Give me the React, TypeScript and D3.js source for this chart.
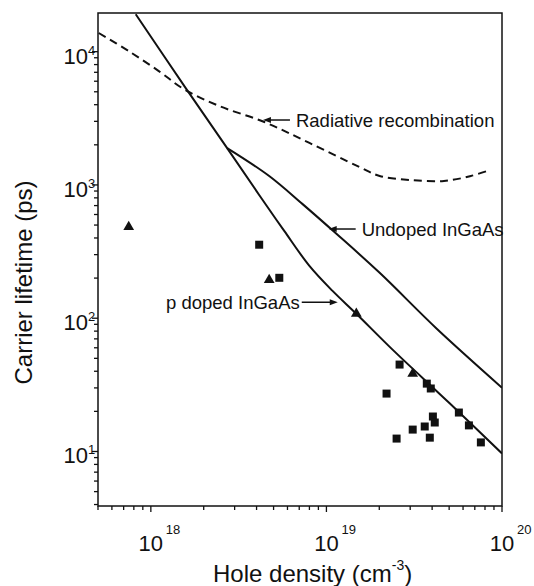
import React from 'react';
import * as d3 from 'd3';

const W = 534;
const H = 586;
const margin = { top: 13, right: 32, bottom: 80, left: 98 };
const FONT = '"Liberation Sans", Arial, Helvetica, sans-serif';

// radiative recombination (dashed)
const radX = [5.05e17, 7.48e17, 1.11e18, 1.54e18, 2.45e18, 4.43e18, 8.0e18, 1.54e19, 2.01e19, 2.98e19, 4.67e19, 6.65e19, 8.53e19];
const radY = [1.38e4, 1.01e4, 7150, 5240, 3910, 2966, 2065, 1365, 1167, 1089, 1072, 1167, 1294];

// p doped InGaAs (solid, steep branch incl. the common upper part)
const pX = [8.2e17, 1.58e18, 2.72e18, 4.14e18, 5.75e18, 8.0e18, 1.08e19, 1.48e19, 2.38e19, 5.05e19, 1e20];
const pY = [1.91e4, 5330, 1890, 841, 452, 247, 161, 108, 58.1, 22.9, 9.66];

// undoped InGaAs (solid, branches off at the kink)
const uX = [2.72e18, 4.72e18, 7.29e18, 1.14e19, 2.01e19, 4.25e19, 1e20];
const uY = [1890, 1167, 721, 430, 219, 83.4, 30.1];

// measured points
const triX = [7.48e17, 4.72e18, 1.48e19, 3.1e19];
const triY = [484, 194, 108, 38.4];
const sqX = [4.14e18, 5.39e18, 2.61e19, 3.73e19, 3.93e19, 2.2e19, 4.04e19, 4.14e19, 3.63e19, 3.1e19, 2.51e19, 3.88e19, 5.68e19, 6.48e19, 7.58e19];
const sqY = [356, 201, 44.9, 32.3, 29.7, 27.2, 18.3, 16.5, 15.4, 14.6, 12.5, 12.7, 19.6, 15.7, 11.7];

const xDecades = [18, 19, 20];
const yDecades = [1, 2, 3, 4];

const zip = (xs: number[], ys: number[]) => xs.map((x, i) => [x, ys[i]] as [number, number]);

export default function App() {
  const x = d3.scaleLog().domain([5e17, 1e20]).range([margin.left, W - margin.right]);
  const y = d3.scaleLog().domain([3.9, 1.95e4]).range([H - margin.bottom, margin.top]);
  const x0 = margin.left, x1 = W - margin.right, y0 = H - margin.bottom, y1 = margin.top;

  const line = d3.line<[number, number]>()
    .x(d => x(d[0]))
    .y(d => y(d[1]))
    .curve(d3.curveCatmullRom.alpha(0.5));

  // minor / major ticks
  const xTicks: { v: number; major: boolean }[] = [];
  for (let e = 17; e <= 20; e++) {
    for (let m = 1; m <= 9; m++) {
      const v = m * Math.pow(10, e);
      if (v >= 5e17 && v <= 1e20) xTicks.push({ v, major: m === 1 });
    }
  }
  const yTicks: { v: number; major: boolean }[] = [];
  for (let e = 0; e <= 4; e++) {
    for (let m = 1; m <= 9; m++) {
      const v = m * Math.pow(10, e);
      if (v >= 3.9 && v <= 1.95e4) yTicks.push({ v, major: m === 1 });
    }
  }

  const sq = d3.symbol().type(d3.symbolSquare).size(64)();
  const tri = d3.symbol().type(d3.symbolTriangle).size(50)();

  const annotations = [
    { text: 'Radiative recombination', tx: 4.35e18, ty: 3070, dir: -1 },
    { text: 'Undoped InGaAs', tx: 1.03e19, ty: 467, dir: -1 },
    { text: 'p doped InGaAs', tx: 1.16e19, ty: 132, dir: 1 },
  ];

  return (
    <svg width={W} height={H} style={{ position: 'absolute', left: 0, top: 0, background: '#fff' }}
      fontFamily={FONT}>
      <defs>
        <clipPath id="plot">
          <rect x={x0} y={y1} width={x1 - x0} height={y0 - y1} />
        </clipPath>
      </defs>
      <rect x={0} y={0} width={W} height={H} fill="#fff" />

      <g clipPath="url(#plot)" fill="none" stroke="#111" strokeWidth={2}>
        <path d={line(zip(radX, radY)) || ''} strokeDasharray="8,5" />
        <path d={line(zip(pX, pY)) || ''} />
        <path d={line(zip(uX, uY)) || ''} />
      </g>

      {zip(sqX, sqY).map((d, i) => (
        <path key={'s' + i} d={sq || ''} transform={`translate(${x(d[0])},${y(d[1])})`} fill="#111" />
      ))}
      {zip(triX, triY).map((d, i) => (
        <path key={'t' + i} d={tri || ''} transform={`translate(${x(d[0])},${y(d[1])})`} fill="#111" />
      ))}

      {annotations.map((a, i) => {
        const px = x(a.tx), py = y(a.ty);
        if (a.dir < 0) {
          return (
            <g key={i}>
              <line x1={px + 4} y1={py} x2={px + 27} y2={py} stroke="#111" strokeWidth={1.5} />
              <path d={`M${px},${py}L${px + 8},${py - 3}L${px + 8},${py + 3}Z`} fill="#111" />
              <text x={px + 33} y={py + 7} fontSize={18.5} fill="#111">{a.text}</text>
            </g>
          );
        }
        return (
          <g key={i}>
            <line x1={px - 36} y1={py} x2={px - 4} y2={py} stroke="#111" strokeWidth={1.5} />
            <path d={`M${px},${py}L${px - 8},${py - 3}L${px - 8},${py + 3}Z`} fill="#111" />
            <text x={px - 38} y={py + 7} fontSize={18.5} fill="#111" textAnchor="end">{a.text}</text>
          </g>
        );
      })}

      {/* frame */}
      <rect x={x0} y={y1} width={x1 - x0} height={y0 - y1} fill="none" stroke="#111" strokeWidth={1.5} />

      {xTicks.map((t, i) => (
        <line key={'xt' + i} x1={x(t.v)} x2={x(t.v)} y1={y0} y2={y0 + (t.major ? 6 : 4)} stroke="#111" strokeWidth={1.3} />
      ))}
      {yTicks.map((t, i) => (
        <line key={'yt' + i} x1={x0} x2={x0 - (t.major ? 6 : 4)} y1={y(t.v)} y2={y(t.v)} stroke="#111" strokeWidth={1.3} />
      ))}

      {xDecades.map(e => {
        const px = x(Math.pow(10, e));
        return (
          <g key={'xl' + e} fill="#111">
            <text x={px} y={y0 + 45} fontSize={22} textAnchor="middle">10</text>
            <text x={px + 15} y={y0 + 28} fontSize={13}>{e}</text>
          </g>
        );
      })}
      {yDecades.map(e => {
        const py = y(Math.pow(10, e));
        return (
          <g key={'yl' + e} fill="#111">
            <text x={88} y={py + 12} fontSize={22} textAnchor="end">10</text>
            <text x={88} y={py + 3} fontSize={13}>{e}</text>
          </g>
        );
      })}

      <text x={213} y={582} fontSize={24} fill="#111">
        Hole density (cm<tspan fontSize={14} dy={-12}>-3</tspan><tspan dy={12}>)</tspan>
      </text>
      <text transform={`translate(32,${(181 + 384) / 2}) rotate(-90)`} fontSize={24} fill="#111" textAnchor="middle">
        Carrier lifetime (ps)
      </text>
    </svg>
  );
}
